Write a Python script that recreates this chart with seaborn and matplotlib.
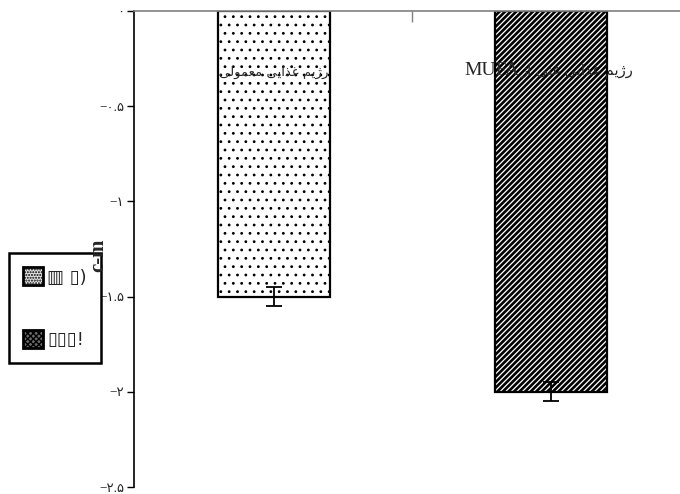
import matplotlib
matplotlib.use("Agg")
import matplotlib.pyplot as plt
import pandas as pd
import seaborn as sns
from matplotlib.patches import Patch

# Persian labels, written in visual (left-to-right) order with presentation forms,
# since matplotlib has no Arabic shaping.
RZHIM = "\uFEE2\uFBFE\u0698\u0631"            # رژیم
GHAZAYI = "\uFBFD\uFBFE\u0627\uFEAC\uFECF"     # غذایی
MAMULI = "\uFBFD\uFEDF\uFEEE\uFEE4\uFECC\uFEE3"  # معمولی
GHANI = "\uFBFD\uFEE8\uFECF"                   # غنی
AZ = "\u0632\u0627"                            # از

groups = ["normal", "mufa"]
group_labels_fa = [f"{MAMULI} {GHAZAYI} {RZHIM}", f"{AZ} {GHANI} {GHAZAYI} {RZHIM}"]
group_labels_latin = ["", "MUFA"]
values = [-1.5, -2.0]
errors = [0.05, 0.05]
hatches = ["..", "//////"]

y_ticks = [0, -0.5, -1, -1.5, -2, -2.5]
y_tick_labels = ["\u06F0", "\u2212\u06F0.\u06F5", "\u2212\u06F1", "\u2212\u06F1.\u06F5",
                 "\u2212\u06F2", "\u2212\u06F2.\u06F5"]
legend_labels = ["\u25A5 \u25AF)", "\u25AF\u25AF\u25AF!"]
legend_hatches = ["......", "xxxxxx"]
legend_fills = ["#e4e4e4", "#6a6a6a"]

sns.set_theme(style="white")
plt.rcParams["font.family"] = ["Liberation Serif", "DejaVu Sans"]
plt.rcParams["hatch.color"] = "black"

df = pd.DataFrame({"group": groups, "value": values})

fig = plt.figure(figsize=(6.8, 4.94), dpi=100)
ax = fig.add_axes([134 / 680, 7 / 494, 546 / 680, 476 / 494])

sns.barplot(data=df, x="group", y="value", color="white", width=0.404,
            edgecolor="black", linewidth=1.6, ax=ax)
for bar, h in zip(ax.patches, hatches):
    bar.set_hatch(h)
    bar.set_hatch_linewidth(1.9 if "/" in h else 0.8)

ax.errorbar(x=range(len(values)), y=values, yerr=errors, fmt="none",
            ecolor="black", elinewidth=1.3, capsize=5.5, capthick=1.3)

for i, (fa, lat) in enumerate(zip(group_labels_fa, group_labels_latin)):
    if lat:
        ax.text(i - 0.115, -0.31, lat, ha="right", va="center", fontsize=14,
                family="Liberation Serif")
        ax.text(i - 0.11, -0.31, fa, ha="left", va="center", fontsize=10.5,
                family="DejaVu Sans")
    else:
        ax.text(i, -0.32, fa, ha="center", va="center", fontsize=9.5,
                family="DejaVu Sans")

ax.set_ylim(-2.5, 0)
ax.set_xlim(-0.505, 1.466)
ax.set_yticks(y_ticks)
ax.set_yticklabels(y_tick_labels, fontsize=9.5)
ax.tick_params(axis="y", direction="out", length=5, width=1, color="black",
               left=True, pad=2)

ax.xaxis.tick_top()
ax.set_xticks([0.5])
ax.set_xticklabels([""])
ax.tick_params(axis="x", direction="in", length=8, width=1, color="#808080", top=True)
ax.set_xlabel("")
ax.set_ylabel("")

for side in ["right", "bottom"]:
    ax.spines[side].set_visible(False)
ax.spines["left"].set_color("black")
ax.spines["left"].set_linewidth(1.2)
ax.spines["top"].set_color("#808080")
ax.spines["top"].set_linewidth(1.2)

handles = [Patch(facecolor=c, edgecolor="black", hatch=h, linewidth=2)
           for h, c in zip(legend_hatches, legend_fills)]
leg = ax.legend(handles=handles, labels=legend_labels, loc="upper left",
                bbox_to_anchor=(9 / 680, 1 - 253 / 494), bbox_transform=fig.transFigure,
                handlelength=1.1, handleheight=1.15, labelspacing=2.4,
                borderpad=0.8, handletextpad=0.2, borderaxespad=0, fancybox=False,
                framealpha=1, prop={"family": ["DejaVu Sans"], "size": 13})
leg.get_frame().set_edgecolor("black")
leg.get_frame().set_linewidth(1.8)

fig.text(98 / 680, 1 - 255 / 494, "c-m", rotation=90, ha="center", va="center",
         fontsize=15, fontweight="bold", family="Liberation Serif", zorder=10)

fig.savefig("out.png", dpi=100)
